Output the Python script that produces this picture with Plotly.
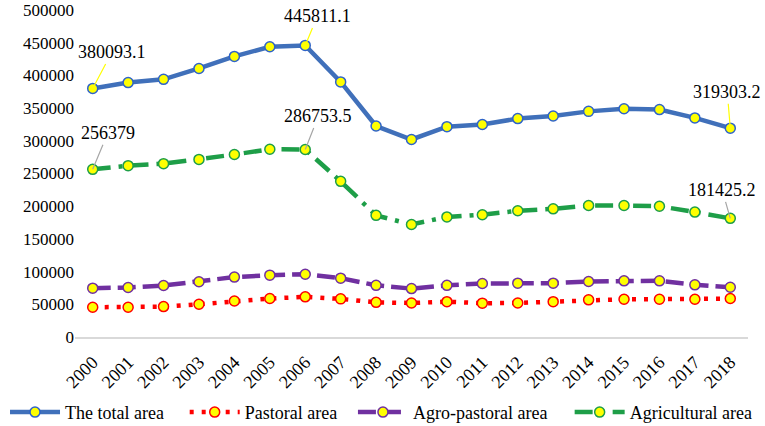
import plotly.graph_objs as go

# data
years = [str(y) for y in range(2000, 2019)]
total_area = [380093.1, 389000, 394000, 410600, 429000, 443800, 445811.1, 390000, 322600,
              302000, 321600, 325000, 334000, 338000, 345000, 349000, 347700, 335000, 319303.2]
pastoral_area = [45500, 45500, 46500, 50000, 55000, 58800, 61400, 58300, 53000,
                 52000, 54000, 51700, 52000, 54000, 56800, 57800, 57800, 57800, 58800]
agro_pastoral_area = [74700, 75700, 78700, 84400, 91600, 94600, 96000, 90000, 79000,
                      74000, 79000, 81800, 82300, 82300, 84800, 85900, 85900, 79800, 76000]
agricultural_area = [256379, 262000, 265000, 271500, 279000, 287000, 286753.5, 238000, 186000,
                     172000, 183600, 187000, 193000, 196000, 201000, 201000, 200000, 191000, 181425.2]

# labelled points: (series, index, text)
label_points = [
    ("total", 0, "380093.1"),
    ("total", 6, "445811.1"),
    ("total", 18, "319303.2"),
    ("agri", 0, "256379"),
    ("agri", 6, "286753.5"),
    ("agri", 18, "181425.2"),
]

font_name = "Liberation Serif"
tick_font = dict(family=font_name, size=17, color="black")
big_font = dict(family=font_name, size=18, color="black")

series = [
    # name, values, line colour, dash, marker edge, legend id, legend x (paper)
    ("The total area", total_area, "#4070BA", "solid", "#2E63C9", "legend", -0.104),
    ("Pastoral area", pastoral_area, "#FF0000", "4px,8px", "#FF0000", "legend2", 0.163),
    ("Agro-pastoral area", agro_pastoral_area, "#7030A0", "18px,7px", "#7030A0", "legend3", 0.413),
    ("Agricultural area", agricultural_area, "#1E9E48", "18px,8px,4px,8px", "#1E9E48", "legend4", 0.735),
]
traces = []
legends = {}
for name, vals, col, dash, edge, leg, lx in series:
    traces.append(go.Scatter(
        x=years, y=vals, mode="lines+markers", name=name, legend=leg,
        line=dict(color=col, width=4.5, dash=dash),
        marker=dict(color="#FFFF00", size=10, line=dict(color=edge, width=1.5)),
    ))
    legends[leg] = dict(orientation="h", x=lx, xanchor="left", y=-0.174, yanchor="top",
                        font=big_font, itemwidth=50, bgcolor="rgba(0,0,0,0)")

# leader line offsets (pixels)
offsets = {
    ("total", 0): (19, -36), ("total", 6): (12, -29), ("total", 18): (-3, -36),
    ("agri", 0): (15, -36), ("agri", 6): (13, -33), ("agri", 18): (-8, -28),
}
src = {"total": total_area, "agri": agricultural_area}
annotations = []
for key, i, txt in label_points:
    ax, ay = offsets[(key, i)]
    lc = "#FFFF00" if key == "total" else "#A6A6A6"
    annotations.append(dict(
        x=i, y=src[key][i], text=txt,   # x as category index
        showarrow=True, arrowhead=0, arrowwidth=1.2, arrowcolor=lc,
        ax=ax, ay=ay, font=big_font,
    ))

layout = go.Layout(
    width=765, height=426,
    margin=dict(l=75, r=17, t=10, b=89, autoexpand=False),
    plot_bgcolor="white", paper_bgcolor="white",
    font=tick_font,
    showlegend=True,
    annotations=annotations,
    xaxis=dict(type="category", range=[-0.5, 18.5], tickangle=-45, automargin=False,
               tickfont=big_font, ticklabelstandoff=6,
               showline=True, linecolor="#D9D9D9", linewidth=1.5,
               showgrid=False, ticks=""),
    yaxis=dict(range=[0, 500000], dtick=50000, tickformat="d", automargin=False,
               tickfont=tick_font,
               showgrid=False, zeroline=False, showline=False, ticks=""),
    **legends,
)

fig = go.Figure(data=traces, layout=layout)
fig.write_html("out.html", config={"displayModeBar": False},
               post_script="document.body.style.margin='0';")
